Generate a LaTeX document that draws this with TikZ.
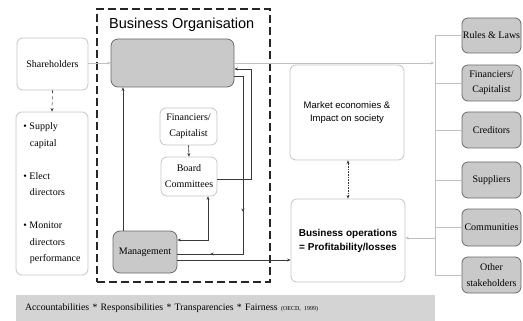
\documentclass[tikz,border=0pt]{standalone}
\usepackage{fontspec}
\setmainfont{Liberation Serif}
\setsansfont{Liberation Sans}
\usetikzlibrary{arrows.meta,decorations.markings}

\definecolor{boxgray}{HTML}{C9C9C9}
\definecolor{edgegray}{HTML}{6A6A6A}
\definecolor{lightedge}{HTML}{C6C6C6}
\definecolor{linkgray}{HTML}{C0C0C0}
\definecolor{bargray}{HTML}{D4D4D4}
\definecolor{inkgray}{HTML}{3A3A3A}

\tikzset{
  x=1pt, y=-1pt,
  >={Stealth[length=3.5pt,width=3pt]},
  whitebox/.style={draw=lightedge, fill=white, rounded corners=6pt, line width=0.8pt,
    inner sep=0pt, align=center, text=black},
  graybox/.style={draw=edgegray, fill=boxgray, rounded corners=6pt, line width=0.8pt,
    inner sep=0pt, align=center, text=black},
  serifsmall/.style={font=\fontsize{10}{16}\selectfont},
  sideserif/.style={font=\fontsize{10}{15.5}\selectfont},
  link/.style={draw=inkgray, line width=0.6pt},
  softlink/.style={draw=linkgray, line width=0.9pt},
  frame/.style={draw=black!85, line width=1.8pt, dash pattern=on 8pt off 4pt},
  midtips/.style 2 args={postaction={decorate}, decoration={markings,
    mark=at position #1 with {\arrow{>}},
    mark=at position #2 with {\arrow{>}}}}
}

\begin{document}
\begin{tikzpicture}
\useasboundingbox (0,0) rectangle (523,321);

% stakeholders of the firm
\node[whitebox, serifsmall, minimum width=71pt, minimum height=52pt] (sh) at (52.5,64) {Shareholders};
\node[whitebox, minimum width=72pt, minimum height=163pt, align=left,
      font=\fontsize{10}{16.5}\selectfont] (roles) at (52,193.5)
  {\textbullet\ Supply\\\hspace*{6.5pt}capital\\[16.5pt]
   \textbullet\ Elect\\\hspace*{6.5pt}directors\\[16.5pt]
   \textbullet\ Monitor\\\hspace*{6.5pt}directors\\\hspace*{6.5pt}performance};

% the organisation
\node[frame, minimum width=173pt, minimum height=273pt, inner sep=0pt] (org) at (183.5,145.5) {};
\node[anchor=west, inner sep=0pt, font=\sffamily\fontsize{14.5}{16}\selectfont] (orgtitle) at (109,25) {Business Organisation};
\node[graybox, minimum width=123pt, minimum height=48pt, rounded corners=7pt] (gb) at (172.5,63) {};
\node[whitebox, serifsmall, minimum width=57pt, minimum height=37pt] (fin) at (188.5,126.5) {Financiers/\\Capitalist};
\node[whitebox, serifsmall, minimum width=56pt, minimum height=39pt] (board) at (189,176.5) {Board\\Committees};
\node[graybox, serifsmall, minimum width=64pt, minimum height=42pt, rounded corners=7pt] (mgmt) at (145,252) {Management};

% market and operations
\node[whitebox, minimum width=114pt, minimum height=95pt,
      font=\sffamily\fontsize{9.5}{13}\selectfont] (market) at (347,112.5) {Market economies \&\\Impact on society};
\node[whitebox, minimum width=114pt, minimum height=83pt,
      font=\sffamily\bfseries\fontsize{10}{14}\selectfont] (ops) at (348,240.5) {Business operations\\= Profitability/losses};

% external parties
\node[graybox, sideserif, minimum width=59pt, minimum height=35pt] (rules) at (491.5,35.5) {Rules \& Laws};
\node[graybox, sideserif, minimum width=59pt, minimum height=36pt] (fin2) at (491.5,83) {Financiers/\\Capitalist};
\node[graybox, sideserif, minimum width=59pt, minimum height=36pt] (cred) at (491.5,130) {Creditors};
\node[graybox, sideserif, minimum width=59pt, minimum height=36pt] (supp) at (491.5,180) {Suppliers};
\node[graybox, sideserif, minimum width=59pt, minimum height=37pt] (comm) at (491.5,227.5) {Communities};
\node[graybox, sideserif, minimum width=59pt, minimum height=36pt] (other) at (491.5,275) {Other\\stakeholders};

% principles bar
\node[fill=bargray, minimum height=26pt, text width=401pt, inner xsep=9pt, align=left,
      font=\fontsize{9.8}{11}\selectfont] (bar) at (225.5,308)
  {Accountabilities * Responsibilities * Transparencies * Fairness {\fontsize{6}{7}\selectfont (OECD, 1999)}};

% helper coordinates
\coordinate (spine) at (435,0);
\coordinate (rowtop) at (0,63);
\coordinate (upx) at (123,0);
\coordinate (bcx) at (251,0);
\coordinate (bcy) at (0,69);
\coordinate (gmx) at (243,0);
\coordinate (gmy) at (0,76);
\coordinate (mgy) at (0,254);
\coordinate (bmx) at (208,0);
\coordinate (bmy) at (0,240);
\coordinate (opy) at (0,260);
\coordinate (rty) at (0,238);
\coordinate (mox) at (348,0);

% soft links to and from the organisation
\draw[softlink,->] (sh.east |- rowtop) -- (gb.west |- rowtop);
\draw[softlink,->] (gb.east |- rowtop) -- ([xshift=-1pt]spine |- rowtop);
\draw[softlink] (spine |- rules) -- (spine |- other);
\foreach \n in {rules,fin2,cred,supp,comm,other}
  \draw[softlink] (spine |- \n) -- (\n.west);
\draw[softlink,->] (spine |- rty) -- (ops.east |- rty);

% shareholders to their roles
\draw[link, dashed, ->] (sh.south) -- (roles.north);

% inside the organisation
\draw[link,->] (mgmt.north -| upx) -- (gb.south -| upx);
\draw[link,->] (fin.south) -- (board.north);
\draw[link,->] (board.east |- 0,179) -- (bcx |- 0,179) -- (bcx |- bcy) -- (gb.east |- bcy);
\draw[link, midtips={0.573}{0.87}] (gb.east |- gmy) -- (gmx |- gmy) -- (gmx |- mgy) -- (mgmt.east |- mgy);
\draw[link,<->] (board.south -| bmx) -- (bmx |- bmy) -- (mgmt.east |- bmy);
\draw[link,->] (mgmt.east |- opy) -- (ops.west |- opy);

% market and operations
\draw[link, densely dotted, <->] (market.south -| mox) -- (ops.north -| mox);
\end{tikzpicture}
\end{document}
